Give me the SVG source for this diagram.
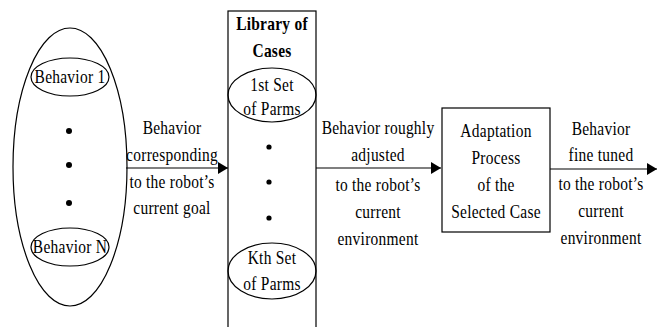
<svg xmlns="http://www.w3.org/2000/svg" width="663" height="327" viewBox="0 0 663 327">
<style>
.s{fill:none;stroke:#000;stroke-width:1.2}
.t{font-family:"Liberation Serif","Times New Roman",serif;font-size:18px;fill:#000;text-anchor:middle;letter-spacing:0.3px;transform-box:fill-box;transform-origin:center;transform:scaleX(0.86)}
.b{font-weight:bold}
.d{fill:#000}
</style>
<defs>
<marker id="ah" markerWidth="10" markerHeight="12" refX="10" refY="6" orient="auto" markerUnits="userSpaceOnUse">
<path d="M0,0 L10,6 L0,12 Z" fill="#000"/>
</marker>
</defs>
<rect width="663" height="327" fill="#fff"/>
<g id="behaviors">
<ellipse class="s" cx="70" cy="167" rx="57" ry="139"/>
<ellipse class="s" cx="70" cy="77" rx="39" ry="19"/>
<text class="t" x="70" y="83">Behavior 1</text>
<circle class="d" cx="69" cy="131" r="3"/>
<circle class="d" cx="69" cy="165" r="3"/>
<circle class="d" cx="69" cy="203" r="3"/>
<ellipse class="s" cx="70" cy="247" rx="39" ry="19"/>
<text class="t" x="70" y="253">Behavior N</text>
</g>
<g id="library">
<rect class="s" x="228" y="11" width="88" height="330"/>
<text class="t b" x="272" y="30">Library of</text>
<text class="t b" x="272" y="57">Cases</text>
<ellipse class="s" cx="272" cy="95" rx="44" ry="27"/>
<text class="t" x="272" y="91">1st Set</text>
<text class="t" x="272" y="115">of Parms</text>
<circle class="d" cx="269" cy="147" r="2.6"/>
<circle class="d" cx="269" cy="182" r="2.6"/>
<circle class="d" cx="269" cy="218" r="2.6"/>
<ellipse class="s" cx="272" cy="271" rx="44" ry="28"/>
<text class="t" x="272" y="264">Kth Set</text>
<text class="t" x="272" y="290">of Parms</text>
</g>
<g id="adaptation">
<rect class="s" x="442" y="108" width="108" height="124"/>
<text class="t" x="496" y="137">Adaptation</text>
<text class="t" x="496" y="164">Process</text>
<text class="t" x="496" y="191">of the</text>
<text class="t" x="496" y="218">Selected Case</text>
</g>
<g id="connectors">
<line class="s" x1="126" y1="168" x2="228" y2="168" marker-end="url(#ah)"/>
<line class="s" x1="316" y1="168" x2="441" y2="168" marker-end="url(#ah)"/>
<line class="s" x1="550" y1="169" x2="657" y2="169" marker-end="url(#ah)"/>
<text class="t" x="172" y="134">Behavior</text>
<text class="t" x="172" y="161">corresponding</text>
<text class="t" x="172" y="188">to the robot’s</text>
<text class="t" x="172" y="214">current goal</text>
<text class="t" x="378" y="134">Behavior roughly</text>
<text class="t" x="378" y="161">adjusted</text>
<text class="t" x="378" y="191">to the robot’s</text>
<text class="t" x="378" y="218">current</text>
<text class="t" x="378" y="245">environment</text>
<text class="t" x="601" y="135">Behavior</text>
<text class="t" x="601" y="161">fine tuned</text>
<text class="t" x="601" y="190">to the robot’s</text>
<text class="t" x="601" y="217">current</text>
<text class="t" x="601" y="244">environment</text>
</g>
</svg>
